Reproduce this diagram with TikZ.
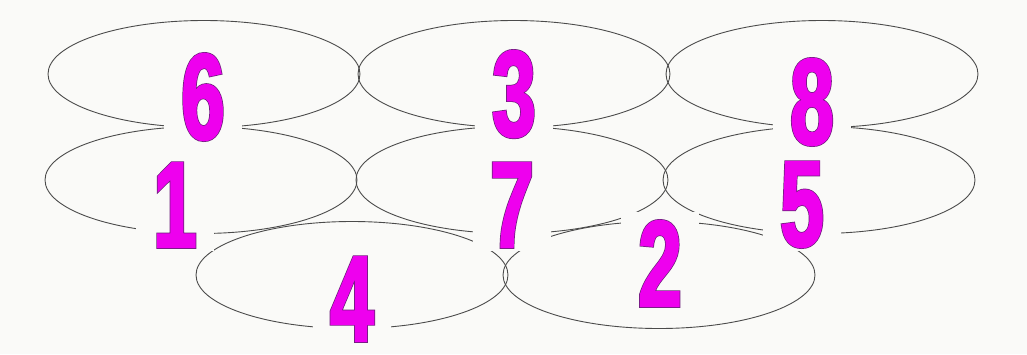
\documentclass[tikz,border=0pt]{standalone}
\usepackage{fontspec}
\usetikzlibrary{shapes.geometric}
\newfontfamily\digfont[FakeStretch=0.64]{Liberation Sans Bold}
\definecolor{bg}{RGB}{250,250,248}
\definecolor{digcol}{RGB}{238,0,238}
\definecolor{linecol}{RGB}{75,75,75}
\newcommand\outlinedigit[1]{%
  \rlap{\special{pdf:literal direct 2 Tr 3.6 w 0.42 0.12 0.48 RG}#1}%
  \special{pdf:literal direct 2 Tr 2.2 w 0.933 0 0.933 RG}#1%
  \special{pdf:literal direct 0 Tr}}
\begin{document}
\begin{tikzpicture}[x=1pt,y=-1pt,
  ell/.style={draw=linecol, line width=0.9pt, ellipse, minimum width=312pt, minimum height=107pt, inner sep=0pt},
  dig/.style={fill=bg, text=digcol, inner xsep=17pt, inner ysep=4pt, anchor=base,
              font=\digfont\fontsize{122}{122}\selectfont}]
\fill[bg] (0,0) rectangle (1027,354);
\useasboundingbox (0,0) rectangle (1027,354);
% top row
\node[ell] (e6) at (204,74) {};
\node[ell] (e3) at (514,74) {};
\node[ell] (e8) at (822,74) {};
% middle row
\node[ell] (e1) at (201,180) {};
\node[ell] (e7) at (512,180) {};
\node[ell] (e5) at (819,180) {};
% bottom row
\node[ell] (e4) at (352,275) {};
\node[ell] (e2) at (659,275) {};
% digits
\node[dig] (n6) at (203,139) {\outlinedigit{6}};
\node[dig] (n3) at (514,136) {\outlinedigit{3}};
\node[dig] (n8) at (812,144) {\outlinedigit{8}};
\node[dig] (n1) at (175,247) {\outlinedigit{1}};
\node[dig] (n7) at (512,247) {\outlinedigit{7}};
\node[dig] (n5) at (802,246) {\outlinedigit{5}};
\node[dig] (n4) at (352,341) {\outlinedigit{4}};
\node[dig, inner ysep=9pt] (n2) at (660,306) {\outlinedigit{2}};
\end{tikzpicture}
\end{document}
